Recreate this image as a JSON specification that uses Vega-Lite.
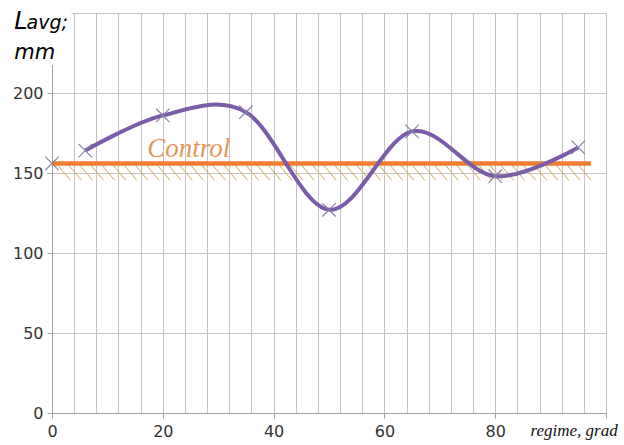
{
  "$schema": "https://vega.github.io/schema/vega-lite/v6.json",
  "width": 554,
  "height": 400,
  "autosize": {"type": "none"},
  "padding": {"left": 52, "top": 13, "right": 18, "bottom": 32},
  "background": "white",
  "view": {"stroke": null},
  "config": {
    "axis": {
      "gridColor": "#c4c4c4",
      "gridWidth": 1,
      "domainColor": "#a0a0a0",
      "domainWidth": 1,
      "tickColor": "#a0a0a0",
      "tickSize": 5,
      "labelFont": "DejaVu Sans",
      "labelFontSize": 16,
      "labelColor": "#333333"
    }
  },
  "datasets": {
    "curve": [
      {"regime": 6, "L": 164},
      {"regime": 20, "L": 186},
      {"regime": 35, "L": 188},
      {"regime": 50, "L": 127},
      {"regime": 65, "L": 176},
      {"regime": 80, "L": 148},
      {"regime": 95, "L": 166}
    ],
    "markers": [
      {"regime": 0, "L": 156},
      {"regime": 6, "L": 164},
      {"regime": 20, "L": 186},
      {"regime": 35, "L": 188},
      {"regime": 50, "L": 127},
      {"regime": 65, "L": 176},
      {"regime": 80, "L": 148},
      {"regime": 95, "L": 166}
    ],
    "control": [
      {"regime": 0, "L": 156},
      {"regime": 97.3, "L": 156}
    ],
    "hatch": [
      {"h": 1, "h2": 3.3}, {"h": 3, "h2": 5.3}, {"h": 5, "h2": 7.3}, {"h": 7, "h2": 9.3},
      {"h": 9, "h2": 11.3}, {"h": 11, "h2": 13.3}, {"h": 13, "h2": 15.3}, {"h": 15, "h2": 17.3},
      {"h": 17, "h2": 19.3}, {"h": 19, "h2": 21.3}, {"h": 21, "h2": 23.3}, {"h": 23, "h2": 25.3},
      {"h": 25, "h2": 27.3}, {"h": 27, "h2": 29.3}, {"h": 29, "h2": 31.3}, {"h": 31, "h2": 33.3},
      {"h": 33, "h2": 35.3}, {"h": 35, "h2": 37.3}, {"h": 37, "h2": 39.3}, {"h": 39, "h2": 41.3},
      {"h": 41, "h2": 43.3}, {"h": 43, "h2": 45.3}, {"h": 45, "h2": 47.3}, {"h": 47, "h2": 49.3},
      {"h": 49, "h2": 51.3}, {"h": 51, "h2": 53.3}, {"h": 53, "h2": 55.3}, {"h": 55, "h2": 57.3},
      {"h": 57, "h2": 59.3}, {"h": 59, "h2": 61.3}, {"h": 61, "h2": 63.3}, {"h": 63, "h2": 65.3},
      {"h": 65, "h2": 67.3}, {"h": 67, "h2": 69.3}, {"h": 69, "h2": 71.3}, {"h": 71, "h2": 73.3},
      {"h": 73, "h2": 75.3}, {"h": 75, "h2": 77.3}, {"h": 77, "h2": 79.3}, {"h": 79, "h2": 81.3},
      {"h": 81, "h2": 83.3}, {"h": 83, "h2": 85.3}, {"h": 85, "h2": 87.3}, {"h": 87, "h2": 89.3},
      {"h": 89, "h2": 91.3}, {"h": 91, "h2": 93.3}, {"h": 93, "h2": 95.3}, {"h": 95, "h2": 97.3}
    ]
  },
  "encoding": {
    "x": {
      "type": "quantitative",
      "scale": {"domain": [0, 100], "nice": false, "zero": false},
      "axis": {
        "values": [0, 4, 8, 12, 16, 20, 24, 28, 32, 36, 40, 44, 48, 52, 56, 60, 64, 68, 72, 76, 80, 84, 88, 92, 96, 100],
        "grid": true,
        "labelExpr": "datum.value % 20 === 0 && datum.value < 100 ? datum.label : ''",
        "labelOverlap": false,
        "labelFlush": false,
        "labelPadding": 5,
        "tickOpacity": {"condition": {"test": "datum.value % 20 === 0", "value": 1}, "value": 0},
        "title": "regime, grad",
        "titleFont": "Liberation Serif",
        "titleFontStyle": "italic",
        "titleFontWeight": "normal",
        "titleFontSize": 17,
        "titleColor": "#111111",
        "titleAlign": "left",
        "titleBaseline": "alphabetic",
        "titleAnchor": "start",
        "titleX": 478,
        "titleY": 22
      }
    },
    "y": {
      "type": "quantitative",
      "scale": {"domain": [0, 250], "nice": false, "zero": false},
      "axis": {
        "values": [0, 50, 100, 150, 200, 250],
        "grid": true,
        "labelExpr": "datum.value < 250 ? datum.label : ''",
        "labelPadding": 4,
        "title": null
      }
    }
  },
  "layer": [
    {
      "data": {"name": "hatch"},
      "mark": {"type": "rule", "color": "#d6a556", "strokeWidth": 1},
      "encoding": {
        "x": {"field": "h"},
        "x2": {"field": "h2"},
        "y": {"datum": 155},
        "y2": {"datum": 145.5}
      }
    },
    {
      "data": {"name": "control"},
      "mark": {"type": "line", "color": "#ed7d31", "strokeWidth": 4.5},
      "encoding": {
        "x": {"field": "regime"},
        "y": {"field": "L"}
      }
    },
    {
      "data": {"name": "curve"},
      "mark": {"type": "line", "color": "#7a5ca8", "strokeWidth": 4, "interpolate": "cardinal"},
      "encoding": {
        "x": {"field": "regime"},
        "y": {"field": "L"}
      }
    },
    {
      "data": {"name": "markers"},
      "mark": {"type": "point", "shape": "M-1,-1L1,1M-1,1L1,-1", "filled": false, "stroke": "#8b80a8", "strokeWidth": 1.2, "size": 180, "opacity": 1},
      "encoding": {
        "x": {"field": "regime"},
        "y": {"field": "L"}
      }
    },
    {
      "data": {"values": [{}]},
      "mark": {"type": "text", "text": "Control", "font": "Liberation Serif", "fontStyle": "italic", "fontSize": 27, "color": "#e9955a", "align": "left", "baseline": "alphabetic"},
      "encoding": {
        "x": {"datum": 17.2},
        "y": {"datum": 160}
      }
    },
    {
      "data": {"values": [{}]},
      "mark": {"type": "rect", "fill": "white", "stroke": null},
      "encoding": {
        "x": {"datum": -1},
        "x2": {"datum": 3.5},
        "y": {"datum": 217.5},
        "y2": {"datum": 253}
      }
    },
    {
      "data": {"values": [{}]},
      "mark": {"type": "text", "text": "L", "font": "DejaVu Sans", "fontStyle": "italic", "fontSize": 24, "color": "#000000", "align": "left", "baseline": "alphabetic"},
      "encoding": {
        "x": {"datum": -6.8},
        "y": {"datum": 239.8}
      }
    },
    {
      "data": {"values": [{}]},
      "mark": {"type": "text", "text": "avg;", "font": "DejaVu Sans", "fontStyle": "italic", "fontSize": 19, "color": "#000000", "align": "left", "baseline": "alphabetic"},
      "encoding": {
        "x": {"datum": -4.6},
        "y": {"datum": 239.8}
      }
    },
    {
      "data": {"values": [{}]},
      "mark": {"type": "text", "text": "mm", "font": "DejaVu Sans", "fontStyle": "italic", "fontSize": 21, "color": "#000000", "align": "left", "baseline": "alphabetic"},
      "encoding": {
        "x": {"datum": -6.8},
        "y": {"datum": 221.3}
      }
    }
  ]
}
